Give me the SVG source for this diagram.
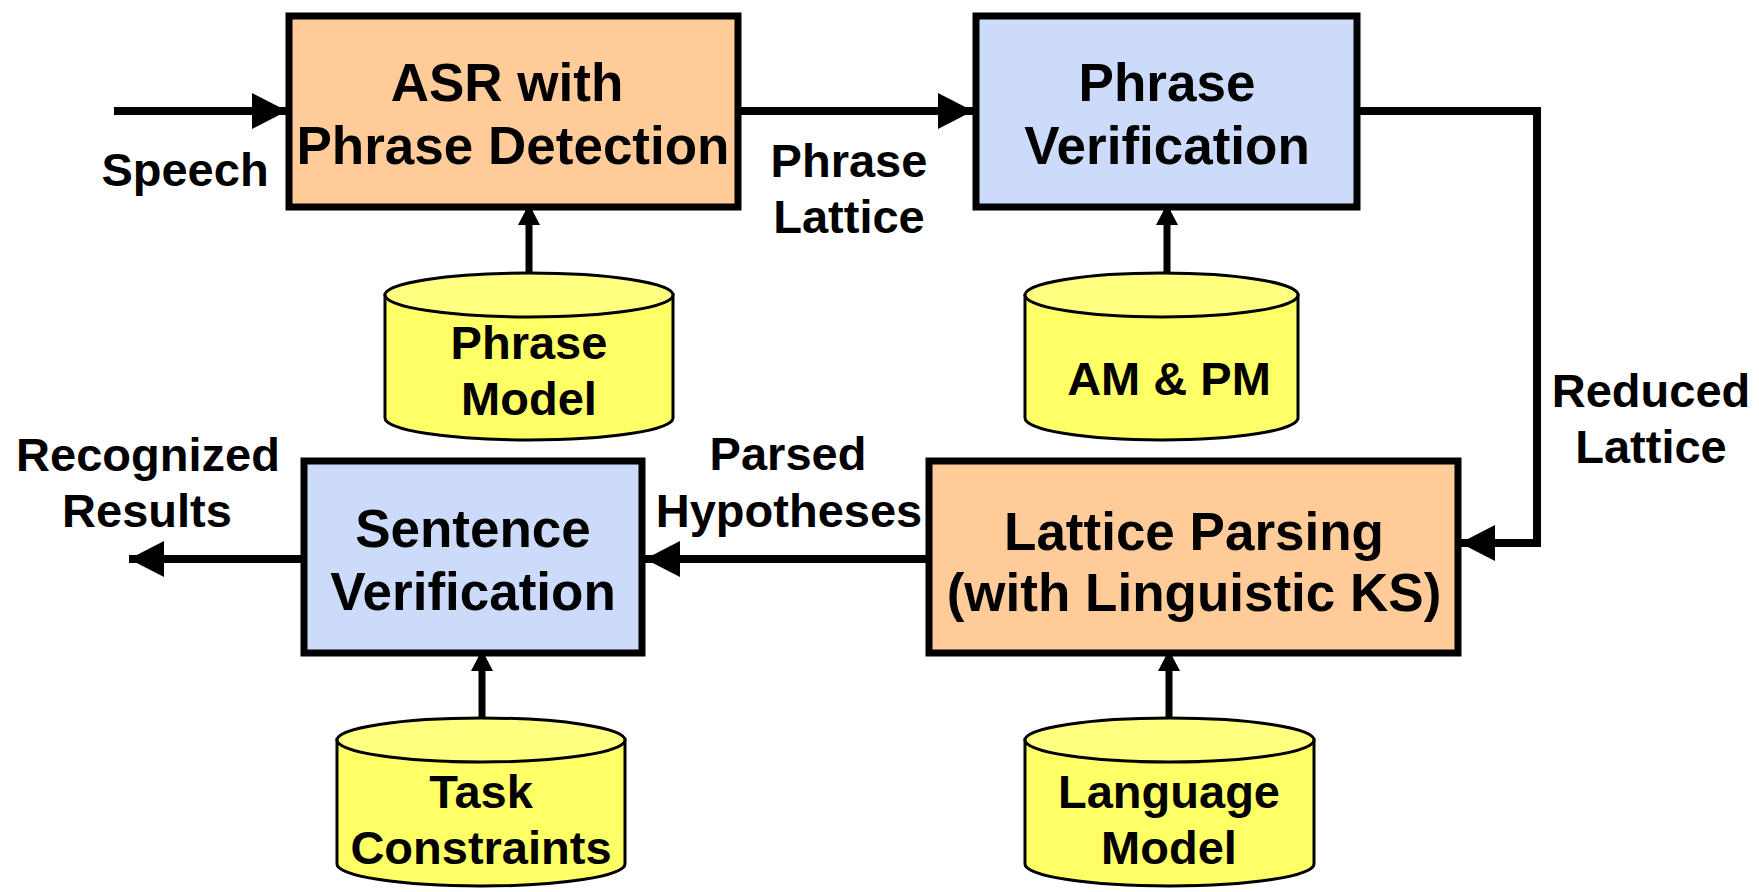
<svg xmlns="http://www.w3.org/2000/svg" width="1759" height="892" viewBox="0 0 1759 892">
  <style>
    text { font-family: "Liberation Sans", Arial, sans-serif; font-weight: bold; fill: #000; text-anchor: middle; }
    .node { font-size: 53px; }
    .db { font-size: 47px; }
    .lbl { font-size: 47px; }
    .box { stroke: #000; stroke-width: 7; }
    .peach { fill: #FFCC99; }
    .blue { fill: #CCDBFA; }
    .cyl { fill: #FFFF66; stroke: #000; stroke-width: 3; }
    .cyltop { fill: #FFFF80; stroke: #000; stroke-width: 3; }
    .wire { fill: none; stroke: #000; stroke-width: 8; }
    .feed { fill: none; stroke: #000; stroke-width: 7; }
  </style>
  <defs>
    <marker id="bigHead" markerUnits="userSpaceOnUse" markerWidth="35" markerHeight="36" refX="35" refY="18" orient="auto">
      <path d="M0,0 L35,18 L0,36 Z" fill="#000"/>
    </marker>
    <marker id="smallHead" markerUnits="userSpaceOnUse" markerWidth="21" markerHeight="22" refX="21" refY="11" orient="auto">
      <path d="M0,0 L21,11 L0,22 Z" fill="#000"/>
    </marker>
  </defs>

  <rect width="1759" height="892" fill="#fff"/>

  <!-- connectors -->
  <g id="connectors">
    <line class="wire" x1="114" y1="111" x2="287" y2="111" marker-end="url(#bigHead)"/>
    <line class="wire" x1="738" y1="111" x2="973" y2="111" marker-end="url(#bigHead)"/>
    <polyline class="wire" points="1357,111 1537,111 1537,543 1460,543" marker-end="url(#bigHead)"/>
    <line class="wire" x1="929" y1="559" x2="645" y2="559" marker-end="url(#bigHead)"/>
    <line class="wire" x1="304" y1="559" x2="129" y2="559" marker-end="url(#bigHead)"/>
    <line class="feed" x1="529" y1="273" x2="529" y2="204" marker-end="url(#smallHead)"/>
    <line class="feed" x1="1167" y1="273" x2="1167" y2="204" marker-end="url(#smallHead)"/>
    <line class="feed" x1="482" y1="718" x2="482" y2="650" marker-end="url(#smallHead)"/>
    <line class="feed" x1="1169" y1="718" x2="1169" y2="650" marker-end="url(#smallHead)"/>
  </g>

  <!-- edge labels -->
  <g id="labels">
    <text class="lbl" x="185" y="186">Speech</text>
    <text class="lbl" x="849" y="177">Phrase</text>
    <text class="lbl" x="849" y="233">Lattice</text>
    <text class="lbl" x="1651" y="407">Reduced</text>
    <text class="lbl" x="1651" y="463">Lattice</text>
    <text class="lbl" x="788" y="470">Parsed</text>
    <text class="lbl" x="789" y="527">Hypotheses</text>
    <text class="lbl" x="148" y="471">Recognized</text>
    <text class="lbl" x="147" y="527">Results</text>
  </g>

  <!-- processing blocks -->
  <g id="asr">
    <rect class="box peach" x="289" y="16" width="449" height="191"/>
    <text class="node" x="507" y="101">ASR with</text>
    <text class="node" x="513" y="164">Phrase Detection</text>
  </g>
  <g id="phrase-verification">
    <rect class="box blue" x="976" y="16" width="381" height="191"/>
    <text class="node" x="1167" y="101">Phrase</text>
    <text class="node" x="1167" y="164">Verification</text>
  </g>
  <g id="sentence-verification">
    <rect class="box blue" x="304" y="461" width="338" height="192"/>
    <text class="node" x="473" y="547">Sentence</text>
    <text class="node" x="473" y="610">Verification</text>
  </g>
  <g id="lattice-parsing">
    <rect class="box peach" x="929" y="461" width="529" height="192"/>
    <text class="node" x="1194" y="550">Lattice Parsing</text>
    <text class="node" x="1194" y="611">(with Linguistic KS)</text>
  </g>

  <!-- knowledge sources -->
  <g id="phrase-model">
    <path class="cyl" d="M385,295 L385,418 A144,22 0 0 0 673,418 L673,295 Z"/>
    <ellipse class="cyltop" cx="529" cy="295" rx="144" ry="22"/>
    <text class="db" x="529" y="359">Phrase</text>
    <text class="db" x="529" y="415">Model</text>
  </g>
  <g id="am-pm">
    <path class="cyl" d="M1025,295 L1025,418 A136.5,22 0 0 0 1298,418 L1298,295 Z"/>
    <ellipse class="cyltop" cx="1161.5" cy="295" rx="136.5" ry="22"/>
    <text class="db" x="1169" y="395">AM &amp; PM</text>
  </g>
  <g id="task-constraints">
    <path class="cyl" d="M337,740 L337,864 A144,22 0 0 0 625,864 L625,740 Z"/>
    <ellipse class="cyltop" cx="481" cy="740" rx="144" ry="22"/>
    <text class="db" x="481" y="808">Task</text>
    <text class="db" x="481" y="864">Constraints</text>
  </g>
  <g id="language-model">
    <path class="cyl" d="M1025,740 L1025,864 A144.5,22 0 0 0 1314,864 L1314,740 Z"/>
    <ellipse class="cyltop" cx="1169.5" cy="740" rx="144.5" ry="22"/>
    <text class="db" x="1169" y="808">Language</text>
    <text class="db" x="1169" y="864">Model</text>
  </g>
</svg>
